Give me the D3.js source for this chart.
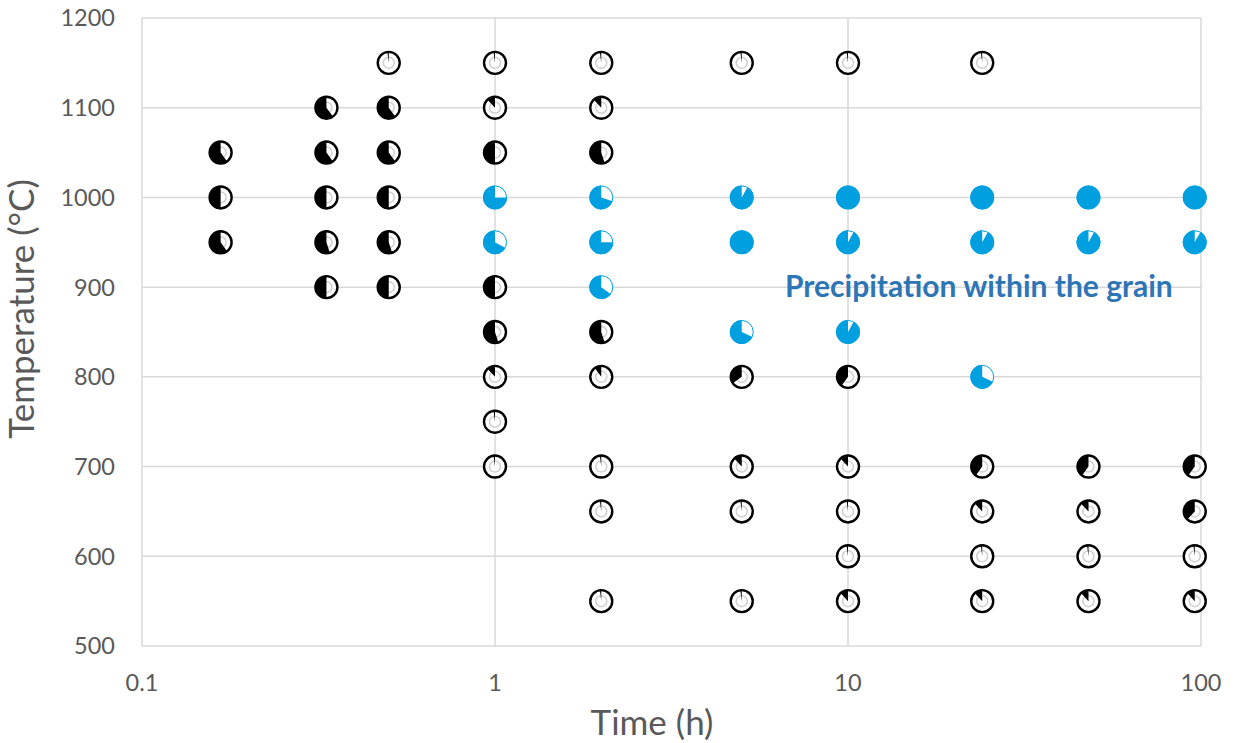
<!DOCTYPE html>
<html>
<head>
<meta charset="utf-8">
<script src="https://cdn.jsdelivr.net/npm/d3@7"></script>
<style>
  body { margin: 0; background: #fff; }
  text { font-family: Lato, "Open Sans", sans-serif; }
</style>
</head>
<body>
<div id="chart"></div>
<script>
// black markers: grain-boundary fraction, time in hours
const blackTime = [0.167, 0.167, 0.167,
  0.333, 0.333, 0.333, 0.333, 0.333,
  0.5, 0.5, 0.5, 0.5, 0.5, 0.5,
  1, 1, 1, 1, 1, 1, 1, 1,
  2, 2, 2, 2, 2, 2, 2, 2,
  5, 5, 5, 5, 5,
  10, 10, 10, 10, 10, 10,
  24, 24, 24, 24, 24,
  48, 48, 48, 48,
  96, 96, 96, 96];
const blackTemp = [1050, 1000, 950,
  1100, 1050, 1000, 950, 900,
  1150, 1100, 1050, 1000, 950, 900,
  1150, 1100, 1050, 900, 850, 800, 750, 700,
  1150, 1100, 1050, 850, 800, 700, 650, 550,
  1150, 800, 700, 650, 550,
  1150, 800, 700, 650, 600, 550,
  1150, 700, 650, 600, 550,
  700, 650, 600, 550,
  700, 650, 600, 550];
const blackFrac = [0.6, 0.5, 0.6,
  0.6, 0.6, 0.5, 0.55, 0.5,
  0.02, 0.6, 0.6, 0.5, 0.55, 0.5,
  0.02, 0.12, 0.5, 0.5, 0.55, 0.12, 0.02, 0.02,
  0.02, 0.12, 0.55, 0.55, 0.1, 0.02, 0.02, 0.02,
  0.02, 0.35, 0.12, 0.02, 0.02,
  0.02, 0.4, 0.12, 0.02, 0.02, 0.12,
  0.02, 0.4, 0.12, 0.02, 0.12,
  0.4, 0.12, 0.02, 0.12,
  0.4, 0.38, 0.02, 0.12];

// blue markers: precipitation within the grain
const blueTime = [1, 1, 2, 2, 2, 5, 5, 5, 10, 10, 10, 24, 24, 24, 48, 48, 96, 96];
const blueTemp = [1000, 950, 1000, 950, 900, 1000, 950, 850, 1000, 950, 850, 1000, 950, 800, 1000, 950, 1000, 950];
const blueFrac = [0.75, 0.67, 0.7, 0.75, 0.65, 0.92, 1, 0.68, 1, 0.92, 0.92, 1, 0.92, 0.68, 1, 0.92, 1, 0.92];

const xTicks = [0.1, 1, 10, 100];
const yTicks = [500, 600, 700, 800, 900, 1000, 1100, 1200];

const width = 1234, height = 743;
const margin = { top: 18, right: 33, bottom: 97, left: 142 };

const svg = d3.select("#chart").append("svg")
  .attr("width", width)
  .attr("height", height);

const x = d3.scaleLog().domain([0.1, 100]).range([margin.left, width - margin.right]);
const y = d3.scaleLinear().domain([500, 1200]).range([height - margin.bottom, margin.top]);

// grid
svg.append("g")
  .selectAll("line")
  .data(yTicks)
  .enter().append("line")
  .attr("x1", x(0.1)).attr("x2", x(100))
  .attr("y1", d => y(d)).attr("y2", d => y(d))
  .attr("stroke", "#d9d9d9").attr("stroke-width", 1.5);

svg.append("g")
  .selectAll("line")
  .data(xTicks)
  .enter().append("line")
  .attr("x1", d => x(d)).attr("x2", d => x(d))
  .attr("y1", y(500)).attr("y2", y(1200))
  .attr("stroke", "#d9d9d9").attr("stroke-width", 1.5);

// tick labels
svg.append("g")
  .selectAll("text")
  .data(yTicks)
  .enter().append("text")
  .attr("x", 115)
  .attr("y", d => y(d))
  .attr("dy", "0.36em")
  .attr("text-anchor", "end")
  .style("font-size", "23.5px")
  .style("fill", "#595959")
  .text(d => d);

svg.append("g")
  .selectAll("text")
  .data(xTicks)
  .enter().append("text")
  .attr("x", d => x(d))
  .attr("y", 683)
  .attr("dy", "0.36em")
  .attr("text-anchor", "middle")
  .style("font-size", "23.5px")
  .style("fill", "#595959")
  .text(d => d);

// axis titles
svg.append("text")
  .attr("x", 652)
  .attr("y", 722)
  .attr("dy", "0.36em")
  .attr("text-anchor", "middle")
  .style("font-size", "35px")
  .style("fill", "#595959")
  .text("Time (h)");

svg.append("text")
  .attr("transform", "translate(21, 309) rotate(-90)")
  .attr("dy", "0.36em")
  .attr("text-anchor", "middle")
  .style("font-size", "35px")
  .style("fill", "#595959")
  .text("Temperature (°C)");

const R = 11;
const arc = d3.arc().innerRadius(0).outerRadius(R);
const tau = 2 * Math.PI;

// black pie markers
const blackData = blackTime.map((t, i) => ({ t: t, T: blackTemp[i], f: blackFrac[i] }));
const bm = svg.append("g")
  .selectAll("g")
  .data(blackData)
  .enter().append("g")
  .attr("transform", d => `translate(${x(d.t)},${y(d.T)})`);

bm.append("circle").attr("r", R).attr("fill", "#fff");
bm.append("circle").attr("r", 5.5).attr("fill", "none")
  .attr("stroke", "#d0d0d0").attr("stroke-width", 1.5);
bm.append("path")
  .attr("d", d => arc({ startAngle: -d.f * tau, endAngle: 0 }))
  .attr("fill", "#000");
bm.append("circle").attr("r", R).attr("fill", "none")
  .attr("stroke", "#000").attr("stroke-width", 2.4);

// blue pie markers
const blueData = blueTime.map((t, i) => ({ t: t, T: blueTemp[i], f: blueFrac[i] }));
const bl = svg.append("g")
  .selectAll("g")
  .data(blueData)
  .enter().append("g")
  .attr("transform", d => `translate(${x(d.t)},${y(d.T)})`);

const arcB = d3.arc().innerRadius(0).outerRadius(12);
bl.append("circle").attr("r", 11.5).attr("fill", "#fff")
  .attr("stroke", "#00a0e0").attr("stroke-width", 1);
bl.append("path")
  .attr("d", d => arcB({ startAngle: -d.f * tau, endAngle: 0 }))
  .attr("fill", "#00a0e0");

// annotation
svg.append("text")
  .attr("x", 785)
  .attr("y", 286)
  .attr("dy", "0.36em")
  .style("font-size", "30px")
  .style("font-weight", "bold")
  .style("fill", "#2e75b6")
  .text("Precipitation within the grain");
</script>
</body>
</html>
